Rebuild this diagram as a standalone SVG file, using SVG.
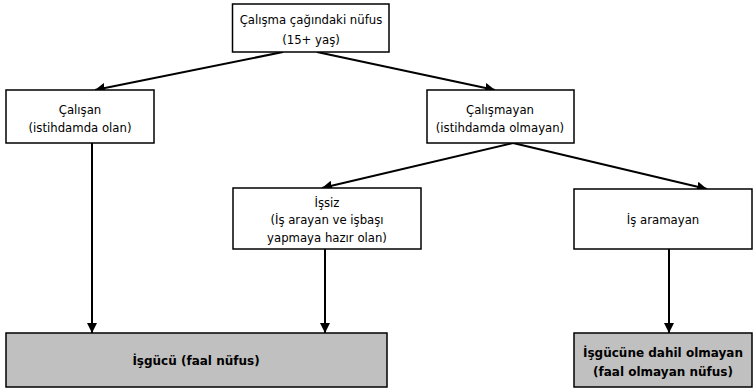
<svg xmlns="http://www.w3.org/2000/svg" width="753" height="391" viewBox="0 0 753 391">
<style>
.box{fill:#fff;stroke:#000;stroke-width:1.5}
.grey{fill:#c0c0c0;stroke:#000;stroke-width:1.5}
.t{font-family:"DejaVu Sans",Verdana,sans-serif;font-size:11.7px;text-anchor:middle;fill:#000}
.b{font-weight:bold;font-size:12px}
.c{stroke:#000;stroke-width:2;fill:none;marker-end:url(#ah)}
</style>
<defs>
<marker id="ah" viewBox="0 0 10 10" refX="10" refY="5" markerWidth="5" markerHeight="5" orient="auto" markerUnits="strokeWidth">
<path d="M0,0 L10,5 L0,10 z" fill="#000"/>
</marker>
</defs>
<g id="connectors">
<line class="c" x1="283" y1="52" x2="95" y2="90"/>
<line class="c" x1="317" y1="52" x2="495" y2="90"/>
<line class="c" x1="92" y1="143" x2="92" y2="333"/>
<line class="c" x1="513" y1="143" x2="322" y2="188"/>
<line class="c" x1="513" y1="143" x2="707" y2="189"/>
<line class="c" x1="325" y1="249" x2="325" y2="333"/>
<line class="c" x1="669" y1="249" x2="669" y2="333"/>
</g>
<g id="n-top">
<rect class="box" x="232.5" y="4" width="156.5" height="48"/>
<text class="t" x="311" y="24">Çalışma çağındaki nüfus</text>
<text class="t" x="311" y="44">(15+ yaş)</text>
</g>
<g id="n-calisan">
<rect class="box" x="6" y="90" width="148" height="53"/>
<text class="t" x="80" y="114">Çalışan</text>
<text class="t" x="80" y="132">(istihdamda olan)</text>
</g>
<g id="n-calismayan">
<rect class="box" x="427" y="90" width="147" height="53"/>
<text class="t" x="500" y="114">Çalışmayan</text>
<text class="t" x="500" y="132">(istihdamda olmayan)</text>
</g>
<g id="n-issiz">
<rect class="box" x="233" y="188" width="188" height="61"/>
<text class="t" x="327" y="207">İşsiz</text>
<text class="t" x="327" y="224">(İş arayan ve işbaşı</text>
<text class="t" x="327" y="242">yapmaya hazır olan)</text>
</g>
<g id="n-isaramayan">
<rect class="box" x="574" y="189" width="178" height="60"/>
<text class="t" x="663" y="224">İş aramayan</text>
</g>
<g id="n-isgucu">
<rect class="grey" x="6" y="333" width="381" height="54"/>
<text class="t b" x="196" y="365">İşgücü (faal nüfus)</text>
</g>
<g id="n-disinda">
<rect class="grey" x="574" y="333" width="178" height="54"/>
<text class="t b" x="663" y="357">İşgücüne dahil olmayan</text>
<text class="t b" x="663" y="376">(faal olmayan nüfus)</text>
</g>
</svg>
